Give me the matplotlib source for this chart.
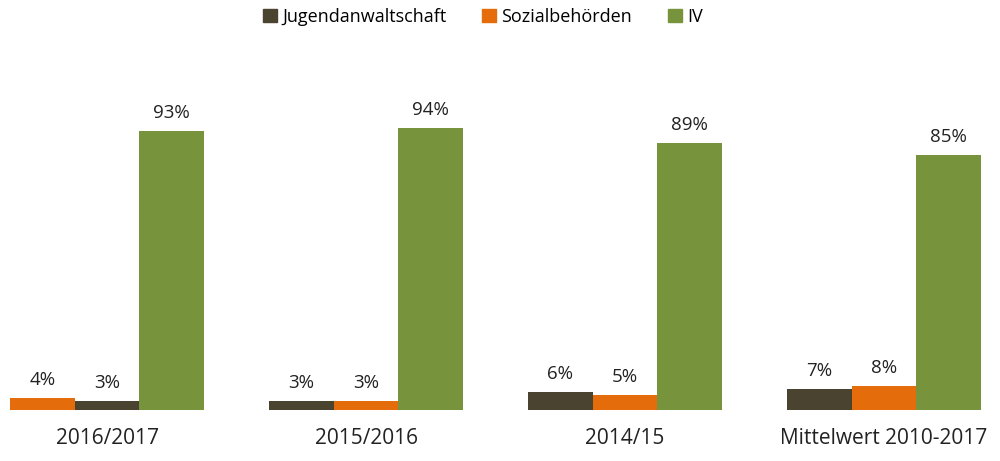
import matplotlib
matplotlib.use("Agg")
import matplotlib.pyplot as plt
from matplotlib.patches import Patch

categories = ["2016/2017", "2015/2016", "2014/15", "Mittelwert 2010-2017"]
jugend = [3, 3, 6, 7]
sozial = [4, 3, 5, 8]
iv = [93, 94, 89, 85]
series_names = ["Jugendanwaltschaft", "Sozialbehörden", "IV"]
colors = ["#4a4330", "#e46c0a", "#77933c"]
# slot order per group (first group shows Sozialbehörden first)
slot_order = [[1, 0, 2], [0, 1, 2], [0, 1, 2], [0, 1, 2]]

plt.rcParams['font.family'] = ['Open Sans', 'DejaVu Sans']
fig = plt.figure(figsize=(10, 4.61), dpi=100)
ax = fig.add_axes([0, 51/461, 1, 300/461])
ax.set_xlim(-107/259, (1000-107)/259)
ax.set_ylim(0, 100)

values = [jugend, sozial, iv]
w = 0.25
for gi in range(len(categories)):
    for slot, si in enumerate(slot_order[gi]):
        x = gi + (slot - 1) * w
        v = values[si][gi]
        ax.bar(x, v, width=w, color=colors[si], linewidth=0)
        ax.text(x, v + 3.0, f"{v}%", ha='center', va='bottom', fontsize=13.5, color='#222222')

ax.set_xticks(range(len(categories)))
ax.set_xticklabels(categories, fontsize=15, color='#222222')
ax.tick_params(axis='x', length=0, pad=13)
ax.set_yticks([])
for s in ax.spines.values():
    s.set_visible(False)

handles = [Patch(color=c, label=n) for c, n in zip(colors, series_names)]
fig.legend(handles=handles, loc='center', bbox_to_anchor=(0.483, 1 - 17/461), ncol=3,
           frameon=False, fontsize=13, handlelength=0.75, handleheight=0.75,
           handletextpad=0.3, columnspacing=2.0)

fig.savefig("out.png", dpi=100)
